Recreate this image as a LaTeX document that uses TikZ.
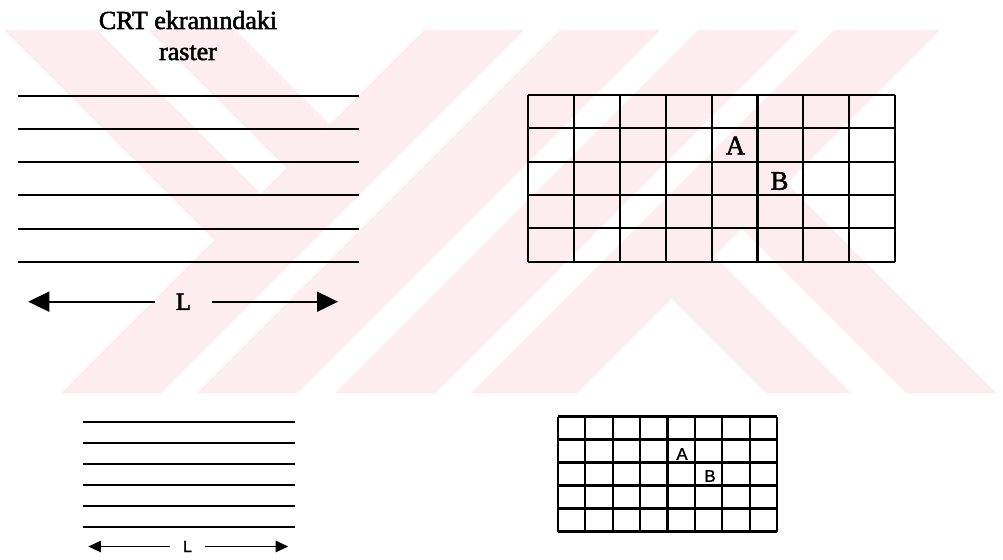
\documentclass[tikz,border=0pt]{standalone}
\usepackage{fontspec}
\setmainfont{Liberation Serif}
\newfontfamily\heavyserif[FakeBold=2]{Liberation Serif}
\newfontfamily\lblsans[FakeBold=1.5]{Liberation Sans}
\usetikzlibrary{arrows.meta}
\definecolor{wmpink}{RGB}{253,236,240}
\begin{document}
\begin{tikzpicture}[x=0.75pt,y=-0.75pt,
  wmark/.style={fill=wmpink,draw=none},
  rline/.style={line width=1.5pt},
  gline/.style={line width=1.6pt},
  sgline/.style={line width=1.6pt},
  bigarrow/.style={line width=1.4pt,-{Triangle[length=15.75pt,width=15pt]}},
  smallarrow/.style={line width=1.3pt,-{Triangle[length=9.5pt,width=8.5pt]}},
  titletext/.style={inner sep=0pt,anchor=base,font=\heavyserif\fontsize{19.5}{23}\selectfont},
  bigletter/.style={inner sep=0pt,font=\heavyserif\fontsize{20}{24}\selectfont},
  smallletter/.style={inner sep=0pt,font=\lblsans\fontsize{12.6}{15}\selectfont}]
\useasboundingbox (0,0) rectangle (1003,560);
% watermark
\fill[wmark] (424,30) -- (524,30) -- (161,393) -- (61,393) -- cycle;
\fill[wmark] (560,30) -- (660,30) -- (297,393) -- (197,393) -- cycle;
\fill[wmark] (698,30) -- (798,30) -- (435,393) -- (335,393) -- cycle;
\fill[wmark] (834,30) -- (940,30) -- (577,393) -- (471,393) -- cycle;
\begin{scope}
  \clip (-5,30) -- (424,30) -- (61,393) -- (-5,393) -- cycle;
  \fill[wmark] (4,30) -- (97,30) -- (460,393) -- (367,393) -- cycle;
  \fill[wmark] (148,30) -- (235,30) -- (598,393) -- (511,393) -- cycle;
\end{scope}
\begin{scope}
  \clip (940,30) -- (1010,30) -- (1010,393) -- (577,393) -- cycle;
  \fill[wmark] (403,30) -- (488,30) -- (851,393) -- (766,393) -- cycle;
  \fill[wmark] (543,30) -- (633,30) -- (996,393) -- (906,393) -- cycle;
\end{scope}
% title
\node[titletext] (title1) at (188,29) {CRT ekranındaki};
\node[titletext] (title2) at (188,60) {raster};
% upper raster lines
\foreach \yy in {95.7,128.7,162.3,195,228.7,261.7}
  \draw[rline] (18.3,\yy) -- (359,\yy);
% upper arrow
\node[inner sep=0pt,minimum width=42.75pt,font=\heavyserif\fontsize{18.5}{22}\selectfont] (Lbig) at (183.5,301.7) {L};
\coordinate (lbigl) at (28.3,301.7);
\coordinate (lbigr) at (338,301.7);
\draw[bigarrow] (Lbig.west) -- (lbigl);
\draw[bigarrow] (Lbig.east) -- (lbigr);
% upper grid
\foreach \xx in {528.3,574.1,620,665.8,711.7,757.5,803.3,849.2,895}
  \draw[gline] (\xx,95) -- (\xx,261.75);
\foreach \yy in {95,128.35,161.7,195.05,228.4,261.75}
  \draw[gline] (528.3,\yy) -- (895,\yy);
\node[bigletter] (Abig) at (735.5,145.5) {A};
\node[bigletter] (Bbig) at (779.5,181) {B};
% lower raster lines
\foreach \yy in {422,443,464,485,506,527}
  \draw[sgline] (83.3,\yy) -- (295,\yy);
% lower arrow
\node[inner sep=0pt,minimum width=26.25pt,font=\lblsans\fontsize{12}{14}\selectfont] (Lsmall) at (187.5,546.5) {L};
\coordinate (lsmalll) at (88.3,546.5);
\coordinate (lsmallr) at (288.3,546.5);
\draw[smallarrow] (Lsmall.west) -- (lsmalll);
\draw[smallarrow] (Lsmall.east) -- (lsmallr);
% lower grid
\foreach \xx in {557.7,585.15,612.6,640.05,667.5,694.95,722.4,749.85,777.3}
  \draw[sgline] (\xx,416.5) -- (\xx,531.5);
\foreach \yy in {416.5,439.5,462.5,485.5,508.5,531.5}
  \draw[sgline] (557.7,\yy) -- (777.3,\yy);
\node[smallletter] (Asmall) at (682,454) {A};
\node[smallletter] (Bsmall) at (710,476) {B};
\end{tikzpicture}
\end{document}
